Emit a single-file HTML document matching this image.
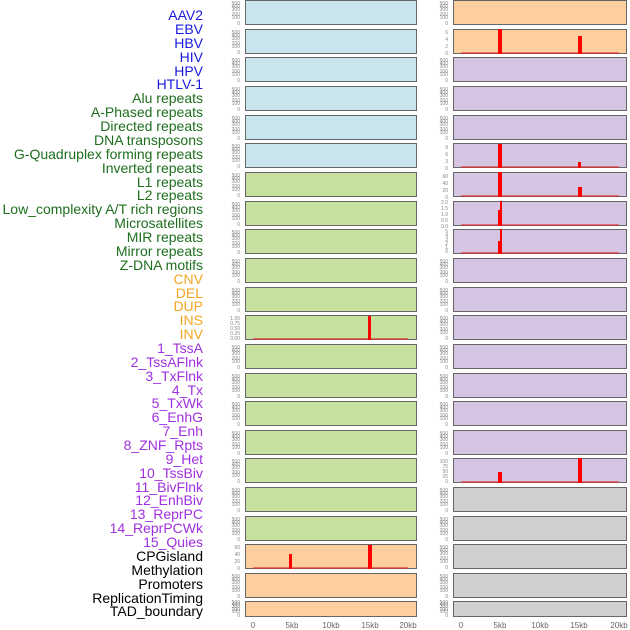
<!DOCTYPE html>
<html><head><meta charset="utf-8"><style>
body{margin:0;background:#fff;width:630px;height:630px;overflow:hidden}
svg{display:block}
.l{font-family:"Liberation Sans",sans-serif;font-size:14px;text-anchor:end}
.t{font-family:"Liberation Sans",sans-serif;font-size:5px;fill:#888;text-anchor:end}
.x{font-family:"Liberation Sans",sans-serif;font-size:8px;fill:#666;text-anchor:middle}
.b{stroke:#666;stroke-width:1}
</style></head><body>
<svg width="630" height="630" viewBox="0 0 630 630">
<g class="l">
<text x="203" y="20" fill="#1a1adc">AAV2</text>
<text x="203" y="34" fill="#1a1adc">EBV</text>
<text x="203" y="48" fill="#1a1adc">HBV</text>
<text x="203" y="62" fill="#1a1adc">HIV</text>
<text x="203" y="76" fill="#1a1adc">HPV</text>
<text x="203" y="89" fill="#1a1adc">HTLV-1</text>
<text x="203" y="103" fill="#1e6e1e">Alu repeats</text>
<text x="203" y="117" fill="#1e6e1e">A-Phased repeats</text>
<text x="203" y="131" fill="#1e6e1e">Directed repeats</text>
<text x="203" y="145" fill="#1e6e1e">DNA transposons</text>
<text x="203" y="159" fill="#1e6e1e">G-Quadruplex forming repeats</text>
<text x="203" y="173" fill="#1e6e1e">Inverted repeats</text>
<text x="203" y="187" fill="#1e6e1e">L1 repeats</text>
<text x="203" y="200" fill="#1e6e1e">L2 repeats</text>
<text x="203" y="214" fill="#1e6e1e">Low_complexity A/T rich regions</text>
<text x="203" y="228" fill="#1e6e1e">Microsatellites</text>
<text x="203" y="242" fill="#1e6e1e">MIR repeats</text>
<text x="203" y="256" fill="#1e6e1e">Mirror repeats</text>
<text x="203" y="270" fill="#1e6e1e">Z-DNA motifs</text>
<text x="203" y="284" fill="#f5a623">CNV</text>
<text x="203" y="298" fill="#f5a623">DEL</text>
<text x="203" y="311" fill="#f5a623">DUP</text>
<text x="203" y="325" fill="#f5a623">INS</text>
<text x="203" y="339" fill="#f5a623">INV</text>
<text x="203" y="353" fill="#a030e0">1_TssA</text>
<text x="203" y="367" fill="#a030e0">2_TssAFlnk</text>
<text x="203" y="381" fill="#a030e0">3_TxFlnk</text>
<text x="203" y="395" fill="#a030e0">4_Tx</text>
<text x="203" y="408" fill="#a030e0">5_TxWk</text>
<text x="203" y="422" fill="#a030e0">6_EnhG</text>
<text x="203" y="436" fill="#a030e0">7_Enh</text>
<text x="203" y="450" fill="#a030e0">8_ZNF_Rpts</text>
<text x="203" y="464" fill="#a030e0">9_Het</text>
<text x="203" y="478" fill="#a030e0">10_TssBiv</text>
<text x="203" y="492" fill="#a030e0">11_BivFlnk</text>
<text x="203" y="505" fill="#a030e0">12_EnhBiv</text>
<text x="203" y="519" fill="#a030e0">13_ReprPC</text>
<text x="203" y="533" fill="#a030e0">14_ReprPCWk</text>
<text x="203" y="547" fill="#a030e0">15_Quies</text>
<text x="203" y="561" fill="#000">CPGisland</text>
<text x="203" y="575" fill="#000">Methylation</text>
<text x="203" y="589" fill="#000">Promoters</text>
<text x="203" y="603" fill="#000">ReplicationTiming</text>
<text x="203" y="616" fill="#000">TAD_boundary</text>
</g>
<g class="b">
<rect x="245.5" y="0.5" width="171" height="24" fill="#c8e4ec"/>
<rect x="245.5" y="29.5" width="171" height="24" fill="#c8e4ec"/>
<rect x="245.5" y="57.5" width="171" height="24" fill="#c8e4ec"/>
<rect x="245.5" y="86.5" width="171" height="24" fill="#c8e4ec"/>
<rect x="245.5" y="115.5" width="171" height="24" fill="#c8e4ec"/>
<rect x="245.5" y="143.5" width="171" height="24" fill="#c8e4ec"/>
<rect x="245.5" y="172.5" width="171" height="24" fill="#c6e0a0"/>
<rect x="245.5" y="201.5" width="171" height="24" fill="#c6e0a0"/>
<rect x="245.5" y="229.5" width="171" height="24" fill="#c6e0a0"/>
<rect x="245.5" y="258.5" width="171" height="24" fill="#c6e0a0"/>
<rect x="245.5" y="287.5" width="171" height="24" fill="#c6e0a0"/>
<rect x="245.5" y="315.5" width="171" height="24" fill="#c6e0a0"/>
<rect x="245.5" y="344.5" width="171" height="24" fill="#c6e0a0"/>
<rect x="245.5" y="373.5" width="171" height="24" fill="#c6e0a0"/>
<rect x="245.5" y="401.5" width="171" height="24" fill="#c6e0a0"/>
<rect x="245.5" y="430.5" width="171" height="24" fill="#c6e0a0"/>
<rect x="245.5" y="458.5" width="171" height="24" fill="#c6e0a0"/>
<rect x="245.5" y="487.5" width="171" height="24" fill="#c6e0a0"/>
<rect x="245.5" y="516.5" width="171" height="24" fill="#c6e0a0"/>
<rect x="245.5" y="544.5" width="171" height="24" fill="#fdcf9e"/>
<rect x="245.5" y="573.5" width="171" height="24" fill="#fdcf9e"/>
<rect x="245.5" y="601.5" width="171" height="15" fill="#fdcf9e"/>
<rect x="453.5" y="0.5" width="173" height="24" fill="#fdcf9e"/>
<rect x="453.5" y="29.5" width="173" height="24" fill="#fdcf9e"/>
<rect x="453.5" y="57.5" width="173" height="24" fill="#d5c5e2"/>
<rect x="453.5" y="86.5" width="173" height="24" fill="#d5c5e2"/>
<rect x="453.5" y="115.5" width="173" height="24" fill="#d5c5e2"/>
<rect x="453.5" y="143.5" width="173" height="24" fill="#d5c5e2"/>
<rect x="453.5" y="172.5" width="173" height="24" fill="#d5c5e2"/>
<rect x="453.5" y="201.5" width="173" height="24" fill="#d5c5e2"/>
<rect x="453.5" y="229.5" width="173" height="24" fill="#d5c5e2"/>
<rect x="453.5" y="258.5" width="173" height="24" fill="#d5c5e2"/>
<rect x="453.5" y="287.5" width="173" height="24" fill="#d5c5e2"/>
<rect x="453.5" y="315.5" width="173" height="24" fill="#d5c5e2"/>
<rect x="453.5" y="344.5" width="173" height="24" fill="#d5c5e2"/>
<rect x="453.5" y="373.5" width="173" height="24" fill="#d5c5e2"/>
<rect x="453.5" y="401.5" width="173" height="24" fill="#d5c5e2"/>
<rect x="453.5" y="430.5" width="173" height="24" fill="#d5c5e2"/>
<rect x="453.5" y="458.5" width="173" height="24" fill="#d5c5e2"/>
<rect x="453.5" y="487.5" width="173" height="24" fill="#d0d0d0"/>
<rect x="453.5" y="516.5" width="173" height="24" fill="#d0d0d0"/>
<rect x="453.5" y="544.5" width="173" height="24" fill="#d0d0d0"/>
<rect x="453.5" y="573.5" width="173" height="24" fill="#d0d0d0"/>
<rect x="453.5" y="601.5" width="173" height="15" fill="#d0d0d0"/>
</g>
<g stroke="#e03030" stroke-width="1.5" opacity="0.8">
<line x1="253" x2="408" y1="339" y2="339"/>
<line x1="253" x2="408" y1="568" y2="568"/>
<line x1="461" x2="619" y1="53" y2="53"/>
<line x1="461" x2="619" y1="167" y2="167"/>
<line x1="461" x2="619" y1="196" y2="196"/>
<line x1="461" x2="619" y1="225" y2="225"/>
<line x1="461" x2="619" y1="253" y2="253"/>
<line x1="461" x2="619" y1="482" y2="482"/>
</g>
<g fill="#ff0000">
<rect x="368" y="316" width="3" height="24"/>
<rect x="289" y="554" width="3" height="15"/>
<rect x="368" y="545" width="4" height="24"/>
<rect x="498" y="29" width="4" height="25"/>
<rect x="578" y="36" width="4" height="18"/>
<rect x="498" y="144" width="4" height="24"/>
<rect x="578" y="162" width="3" height="6"/>
<rect x="498" y="172" width="4" height="25"/>
<rect x="578" y="187" width="4" height="10"/>
<rect x="498" y="210" width="2" height="16"/>
<rect x="500" y="201" width="2" height="25"/>
<rect x="498" y="241" width="2" height="13"/>
<rect x="500" y="229" width="2" height="25"/>
<rect x="498" y="472" width="4" height="11"/>
<rect x="578" y="458" width="4" height="25"/>
</g>
<g class="t">
<text x="240" y="5"><tspan x="240">500</tspan><tspan x="240" dy="3">400</tspan><tspan x="240" dy="3">300</tspan><tspan x="240" dy="5">200</tspan><tspan x="240" dy="3">100</tspan><tspan x="240" dy="6">0</tspan></text>
<text x="240" y="34"><tspan x="240">500</tspan><tspan x="240" dy="3">400</tspan><tspan x="240" dy="3">300</tspan><tspan x="240" dy="5">200</tspan><tspan x="240" dy="3">100</tspan><tspan x="240" dy="6">0</tspan></text>
<text x="240" y="62"><tspan x="240">500</tspan><tspan x="240" dy="3">400</tspan><tspan x="240" dy="3">300</tspan><tspan x="240" dy="5">200</tspan><tspan x="240" dy="3">100</tspan><tspan x="240" dy="6">0</tspan></text>
<text x="240" y="91"><tspan x="240">500</tspan><tspan x="240" dy="3">400</tspan><tspan x="240" dy="3">300</tspan><tspan x="240" dy="5">200</tspan><tspan x="240" dy="3">100</tspan><tspan x="240" dy="6">0</tspan></text>
<text x="240" y="120"><tspan x="240">500</tspan><tspan x="240" dy="3">400</tspan><tspan x="240" dy="3">300</tspan><tspan x="240" dy="5">200</tspan><tspan x="240" dy="3">100</tspan><tspan x="240" dy="6">0</tspan></text>
<text x="240" y="148"><tspan x="240">500</tspan><tspan x="240" dy="3">400</tspan><tspan x="240" dy="3">300</tspan><tspan x="240" dy="5">200</tspan><tspan x="240" dy="3">100</tspan><tspan x="240" dy="6">0</tspan></text>
<text x="240" y="177"><tspan x="240">500</tspan><tspan x="240" dy="3">400</tspan><tspan x="240" dy="3">300</tspan><tspan x="240" dy="5">200</tspan><tspan x="240" dy="3">100</tspan><tspan x="240" dy="6">0</tspan></text>
<text x="240" y="206"><tspan x="240">500</tspan><tspan x="240" dy="3">400</tspan><tspan x="240" dy="3">300</tspan><tspan x="240" dy="5">200</tspan><tspan x="240" dy="3">100</tspan><tspan x="240" dy="6">0</tspan></text>
<text x="240" y="234"><tspan x="240">500</tspan><tspan x="240" dy="3">400</tspan><tspan x="240" dy="3">300</tspan><tspan x="240" dy="5">200</tspan><tspan x="240" dy="3">100</tspan><tspan x="240" dy="6">0</tspan></text>
<text x="240" y="263"><tspan x="240">500</tspan><tspan x="240" dy="3">400</tspan><tspan x="240" dy="3">300</tspan><tspan x="240" dy="5">200</tspan><tspan x="240" dy="3">100</tspan><tspan x="240" dy="6">0</tspan></text>
<text x="240" y="292"><tspan x="240">500</tspan><tspan x="240" dy="3">400</tspan><tspan x="240" dy="3">300</tspan><tspan x="240" dy="5">200</tspan><tspan x="240" dy="3">100</tspan><tspan x="240" dy="6">0</tspan></text>
<text x="240" y="320"><tspan x="240">1.00</tspan><tspan x="240" dy="5">0.75</tspan><tspan x="240" dy="5">0.50</tspan><tspan x="240" dy="5">0.25</tspan><tspan x="240" dy="5">0.00</tspan></text>
<text x="240" y="349"><tspan x="240">500</tspan><tspan x="240" dy="3">400</tspan><tspan x="240" dy="3">300</tspan><tspan x="240" dy="5">200</tspan><tspan x="240" dy="3">100</tspan><tspan x="240" dy="6">0</tspan></text>
<text x="240" y="378"><tspan x="240">500</tspan><tspan x="240" dy="3">400</tspan><tspan x="240" dy="3">300</tspan><tspan x="240" dy="5">200</tspan><tspan x="240" dy="3">100</tspan><tspan x="240" dy="6">0</tspan></text>
<text x="240" y="406"><tspan x="240">500</tspan><tspan x="240" dy="3">400</tspan><tspan x="240" dy="3">300</tspan><tspan x="240" dy="5">200</tspan><tspan x="240" dy="3">100</tspan><tspan x="240" dy="6">0</tspan></text>
<text x="240" y="435"><tspan x="240">500</tspan><tspan x="240" dy="3">400</tspan><tspan x="240" dy="3">300</tspan><tspan x="240" dy="5">200</tspan><tspan x="240" dy="3">100</tspan><tspan x="240" dy="6">0</tspan></text>
<text x="240" y="463"><tspan x="240">500</tspan><tspan x="240" dy="3">400</tspan><tspan x="240" dy="3">300</tspan><tspan x="240" dy="5">200</tspan><tspan x="240" dy="3">100</tspan><tspan x="240" dy="6">0</tspan></text>
<text x="240" y="492"><tspan x="240">500</tspan><tspan x="240" dy="3">400</tspan><tspan x="240" dy="3">300</tspan><tspan x="240" dy="5">200</tspan><tspan x="240" dy="3">100</tspan><tspan x="240" dy="6">0</tspan></text>
<text x="240" y="521"><tspan x="240">500</tspan><tspan x="240" dy="3">400</tspan><tspan x="240" dy="3">300</tspan><tspan x="240" dy="5">200</tspan><tspan x="240" dy="3">100</tspan><tspan x="240" dy="6">0</tspan></text>
<text x="240" y="549"><tspan x="240">60</tspan><tspan x="240" dy="7">40</tspan><tspan x="240" dy="7">20</tspan><tspan x="240" dy="7">0</tspan></text>
<text x="240" y="578"><tspan x="240">500</tspan><tspan x="240" dy="3">400</tspan><tspan x="240" dy="3">300</tspan><tspan x="240" dy="5">200</tspan><tspan x="240" dy="3">100</tspan><tspan x="240" dy="6">0</tspan></text>
<text x="240" y="604"><tspan x="240">500</tspan><tspan x="240" dy="2">400</tspan><tspan x="240" dy="2">300</tspan><tspan x="240" dy="3">200</tspan><tspan x="240" dy="2">100</tspan><tspan x="240" dy="4">0</tspan></text>

<text x="448" y="5"><tspan x="448">500</tspan><tspan x="448" dy="3">400</tspan><tspan x="448" dy="3">300</tspan><tspan x="448" dy="5">200</tspan><tspan x="448" dy="3">100</tspan><tspan x="448" dy="6">0</tspan></text>
<text x="448" y="34"><tspan x="448">6</tspan><tspan x="448" dy="7">4</tspan><tspan x="448" dy="7">2</tspan><tspan x="448" dy="7">0</tspan></text>
<text x="448" y="62"><tspan x="448">500</tspan><tspan x="448" dy="3">400</tspan><tspan x="448" dy="3">300</tspan><tspan x="448" dy="5">200</tspan><tspan x="448" dy="3">100</tspan><tspan x="448" dy="6">0</tspan></text>
<text x="448" y="91"><tspan x="448">500</tspan><tspan x="448" dy="3">400</tspan><tspan x="448" dy="3">300</tspan><tspan x="448" dy="5">200</tspan><tspan x="448" dy="3">100</tspan><tspan x="448" dy="6">0</tspan></text>
<text x="448" y="120"><tspan x="448">500</tspan><tspan x="448" dy="3">400</tspan><tspan x="448" dy="3">300</tspan><tspan x="448" dy="5">200</tspan><tspan x="448" dy="3">100</tspan><tspan x="448" dy="6">0</tspan></text>
<text x="448" y="149"><tspan x="448">9</tspan><tspan x="448" dy="7">6</tspan><tspan x="448" dy="7">3</tspan><tspan x="448" dy="7">0</tspan></text>
<text x="448" y="178"><tspan x="448">60</tspan><tspan x="448" dy="7">40</tspan><tspan x="448" dy="7">20</tspan><tspan x="448" dy="7">0</tspan></text>
<text x="448" y="204"><tspan x="448">2.0</tspan><tspan x="448" dy="6">1.5</tspan><tspan x="448" dy="6">1.0</tspan><tspan x="448" dy="6">0.5</tspan><tspan x="448" dy="6">0.0</tspan></text>
<text x="448" y="233"><tspan x="448">5</tspan><tspan x="448" dy="4">4</tspan><tspan x="448" dy="4">3</tspan><tspan x="448" dy="4">2</tspan><tspan x="448" dy="4">1</tspan><tspan x="448" dy="4">0</tspan></text>
<text x="448" y="263"><tspan x="448">500</tspan><tspan x="448" dy="3">400</tspan><tspan x="448" dy="3">300</tspan><tspan x="448" dy="5">200</tspan><tspan x="448" dy="3">100</tspan><tspan x="448" dy="6">0</tspan></text>
<text x="448" y="292"><tspan x="448">500</tspan><tspan x="448" dy="3">400</tspan><tspan x="448" dy="3">300</tspan><tspan x="448" dy="5">200</tspan><tspan x="448" dy="3">100</tspan><tspan x="448" dy="6">0</tspan></text>
<text x="448" y="320"><tspan x="448">500</tspan><tspan x="448" dy="3">400</tspan><tspan x="448" dy="3">300</tspan><tspan x="448" dy="5">200</tspan><tspan x="448" dy="3">100</tspan><tspan x="448" dy="6">0</tspan></text>
<text x="448" y="349"><tspan x="448">500</tspan><tspan x="448" dy="3">400</tspan><tspan x="448" dy="3">300</tspan><tspan x="448" dy="5">200</tspan><tspan x="448" dy="3">100</tspan><tspan x="448" dy="6">0</tspan></text>
<text x="448" y="378"><tspan x="448">500</tspan><tspan x="448" dy="3">400</tspan><tspan x="448" dy="3">300</tspan><tspan x="448" dy="5">200</tspan><tspan x="448" dy="3">100</tspan><tspan x="448" dy="6">0</tspan></text>
<text x="448" y="406"><tspan x="448">500</tspan><tspan x="448" dy="3">400</tspan><tspan x="448" dy="3">300</tspan><tspan x="448" dy="5">200</tspan><tspan x="448" dy="3">100</tspan><tspan x="448" dy="6">0</tspan></text>
<text x="448" y="435"><tspan x="448">500</tspan><tspan x="448" dy="3">400</tspan><tspan x="448" dy="3">300</tspan><tspan x="448" dy="5">200</tspan><tspan x="448" dy="3">100</tspan><tspan x="448" dy="6">0</tspan></text>
<text x="448" y="463"><tspan x="448">100</tspan><tspan x="448" dy="5">75</tspan><tspan x="448" dy="5">50</tspan><tspan x="448" dy="5">25</tspan><tspan x="448" dy="5">0</tspan></text>
<text x="448" y="492"><tspan x="448">500</tspan><tspan x="448" dy="3">400</tspan><tspan x="448" dy="3">300</tspan><tspan x="448" dy="5">200</tspan><tspan x="448" dy="3">100</tspan><tspan x="448" dy="6">0</tspan></text>
<text x="448" y="521"><tspan x="448">500</tspan><tspan x="448" dy="3">400</tspan><tspan x="448" dy="3">300</tspan><tspan x="448" dy="5">200</tspan><tspan x="448" dy="3">100</tspan><tspan x="448" dy="6">0</tspan></text>
<text x="448" y="549"><tspan x="448">500</tspan><tspan x="448" dy="3">400</tspan><tspan x="448" dy="3">300</tspan><tspan x="448" dy="5">200</tspan><tspan x="448" dy="3">100</tspan><tspan x="448" dy="6">0</tspan></text>
<text x="448" y="578"><tspan x="448">500</tspan><tspan x="448" dy="3">400</tspan><tspan x="448" dy="3">300</tspan><tspan x="448" dy="5">200</tspan><tspan x="448" dy="3">100</tspan><tspan x="448" dy="6">0</tspan></text>
<text x="448" y="604"><tspan x="448">500</tspan><tspan x="448" dy="2">400</tspan><tspan x="448" dy="2">300</tspan><tspan x="448" dy="3">200</tspan><tspan x="448" dy="2">100</tspan><tspan x="448" dy="4">0</tspan></text>
</g>
<g class="x">
<text x="253" y="628">0</text><text x="292" y="628">5kb</text><text x="331" y="628">10kb</text><text x="370" y="628">15kb</text><text x="408" y="628">20kb</text>
<text x="461" y="628">0</text><text x="500" y="628">5kb</text><text x="540" y="628">10kb</text><text x="579" y="628">15kb</text><text x="619" y="628">20kb</text>
</g>
</svg>
</body></html>
